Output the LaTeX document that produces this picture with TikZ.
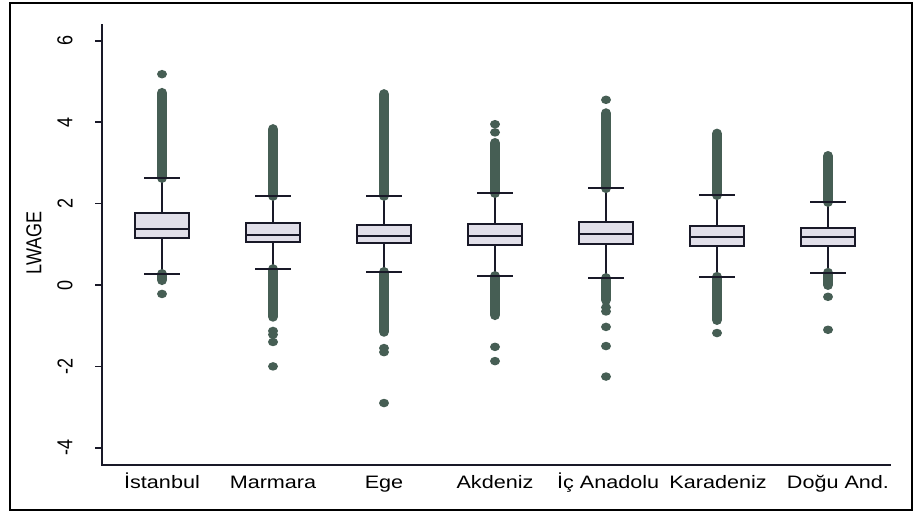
\documentclass[tikz,border=0pt]{standalone}
\usepackage{fontspec}
\setmainfont{Liberation Sans}
\definecolor{boxfill}{RGB}{225,223,233}
\definecolor{boxline}{RGB}{25,25,40}
\definecolor{dotc}{RGB}{70,94,84}
\begin{document}
\begin{tikzpicture}[x=0.75pt,y=0.75pt,
    lbl/.style={font=\fontsize{13.5}{16}\selectfont, inner sep=0pt},
    axisline/.style={draw=boxline, line width=1.2pt},
    whisk/.style={draw=boxline, line width=1.8pt},
    qbox/.style={fill=boxfill, draw=boxline, line width=1.8pt},
    dense/.style={draw=dotc, line width=7.5pt, line cap=round},
    outl/.style={fill=dotc}]
    \useasboundingbox (0,0) rectangle (917,514);
    \draw[line width=1.6pt] (10,4) rectangle (912,511);

    \begin{scope}[shift={(51,229)}, x=83.25pt, y=30.525pt]
        \draw[axisline] (0.46,6.41) |- (7.57,-4.42);
        \foreach \v [count=\k] in {-4,-2,...,6} {
            \draw[axisline] (0.397,\v) -- (0.46,\v);
            \node[lbl, rotate=90, yscale=1.2] (tick\k) at (0.126,\v) {\v};
        }
        \node[lbl, rotate=90, yscale=1.2] (ylab) at (-0.153,1.03) {LWAGE};

        \foreach \i/\qa/\md/\qb/\lo/\hi/\ut/\lb in {
            1/1.16/1.38/1.77/0.27/2.63/4.72/0.12,
            2/1.06/1.23/1.52/0.39/2.19/3.83/-0.78,
            3/1.03/1.20/1.47/0.32/2.19/4.69/-1.15,
            4/0.98/1.20/1.50/0.22/2.26/3.49/-0.74,
            5/1.00/1.25/1.55/0.17/2.38/4.22/-0.37,
            6/0.96/1.18/1.45/0.20/2.21/3.72/-0.86,
            7/0.96/1.18/1.40/0.30/2.04/3.17/0.00} {
            \draw[whisk] (\i,\lo) -- (\i,\hi);
            \draw[dense] (\i,\hi) -- (\i,\ut);
            \draw[dense] (\i,\lo) -- (\i,\lb);
            \draw[whisk] (\i-0.16,\lo) -- (\i+0.16,\lo);
            \draw[whisk] (\i-0.16,\hi) -- (\i+0.16,\hi);
            \filldraw[qbox] (\i-0.245,\qa) rectangle (\i+0.245,\qb);
            \draw[whisk] (\i-0.245,\md) -- (\i+0.245,\md);
        }
        \foreach \i/\v in {1/5.18, 1/-0.22, 2/-1.13, 2/-1.22, 2/-1.40, 2/-2.00,
            3/-1.55, 3/-1.65, 3/-2.90, 4/3.75, 4/3.95, 4/-1.52, 4/-1.87,
            5/4.55, 5/-0.55, 5/-0.65, 5/-1.03, 5/-1.50, 5/-2.25,
            6/-1.18, 7/-0.29, 7/-1.10}
            \fill[outl] (\i,\v) ellipse [x radius=3.75pt, y radius=3.2pt];

        \foreach \t/\dx [count=\i] in {İstanbul/0, Marmara/0, Ege/0, Akdeniz/0,
            İç Anadolu/0.02, Karadeniz/0.01, Doğu And./0.09}
            \node[lbl, anchor=base, xscale=1.2] (cat\i) at (\i+\dx,-4.99) {\t};
    \end{scope}
\end{tikzpicture}
\end{document}
